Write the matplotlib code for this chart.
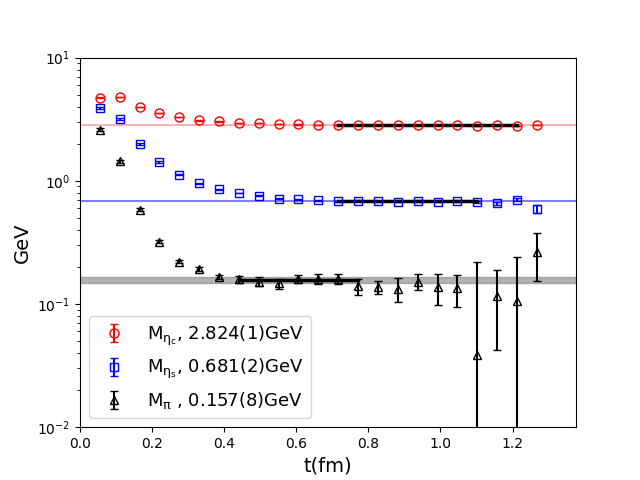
import numpy as np
import matplotlib
matplotlib.use('Agg')
import matplotlib.pyplot as plt

# time slices in fm, a = 0.0551 fm
a = 0.0551
n_t = np.arange(1, 24)
t = n_t * a

# eta_c effective mass (GeV)
m_etac = [4.72, 4.80, 3.97, 3.55, 3.28, 3.10, 3.03, 2.95, 2.93, 2.89, 2.87, 2.85,
          2.84, 2.83, 2.83, 2.83, 2.83, 2.83, 2.83, 2.80, 2.82, 2.79, 2.83]
e_etac = [0.03, 0.03, 0.02, 0.02, 0.015, 0.015, 0.01, 0.01, 0.01, 0.01, 0.01, 0.01,
          0.01, 0.01, 0.01, 0.01, 0.01, 0.01, 0.01, 0.01, 0.01, 0.01, 0.01]

# eta_s effective mass (GeV)
m_etas = [3.90, 3.17, 1.99, 1.42, 1.12, 0.958, 0.855, 0.794, 0.755, 0.718, 0.710, 0.692,
          0.684, 0.686, 0.680, 0.678, 0.684, 0.678, 0.684, 0.670, 0.655, 0.700, 0.589]
e_etas = [0.05, 0.04, 0.02, 0.015, 0.01, 0.008, 0.006, 0.005, 0.005, 0.005, 0.005, 0.005,
          0.005, 0.006, 0.008, 0.008, 0.008, 0.01, 0.01, 0.012, 0.015, 0.02, 0.045]

# pion effective mass (GeV)
m_pi = [2.60, 1.435, 0.581, 0.321, 0.2195, 0.192, 0.167, 0.159, 0.152, 0.147, 0.159, 0.159,
        0.159, 0.139, 0.137, 0.133, 0.152, 0.137, 0.134, 0.0385, 0.116, 0.106, 0.266]
e_pi = [0.06, 0.03, 0.015, 0.008, 0.006, 0.006, 0.006, 0.011, 0.013, 0.014, 0.012, 0.015,
        0.015, 0.021, 0.016, 0.029, 0.022, 0.039, 0.039, 0.18, 0.074, 0.134, 0.113]

# fit results
fit_etac, fit_etac_err = 2.824, 0.001
fit_etas, fit_etas_err = 0.681, 0.002
fit_pi, fit_pi_err = 0.157, 0.008
range_etac = (13, 22)
range_etas = (13, 20)
range_pi = (8, 14)

fig, ax = plt.subplots(figsize=(6.4, 4.8), dpi=100)

ax.axhline(fit_etac, color='red', alpha=0.3, lw=1.5)
ax.axhline(fit_etas, color='blue', alpha=0.5, lw=1.5)
ax.axhspan(fit_pi - fit_pi_err, fit_pi + fit_pi_err, facecolor='gray', alpha=0.6,
           edgecolor='gray', lw=1)

ax.errorbar(t, m_etac, yerr=e_etac, fmt='o', mfc='none', mec='red', ecolor='red',
            ms=6.5, capsize=3, label=r'$\mathrm{M_{\eta_c}}$, 2.824(1)GeV')
ax.errorbar(t, m_etas, yerr=e_etas, fmt='s', mfc='none', mec='blue', ecolor='blue',
            ms=6, capsize=3, label=r'$\mathrm{M_{\eta_s}}$, 0.681(2)GeV')
ax.errorbar(t, m_pi, yerr=e_pi, fmt='^', mfc='none', mec='black', ecolor='black',
            ms=6, capsize=3, label=r'$\mathrm{M_{\pi}}$ , 0.157(8)GeV')

for (i0, i1), val in [(range_etac, fit_etac), (range_etas, fit_etas), (range_pi, fit_pi)]:
    ax.plot([t[i0 - 1], t[i1 - 1]], [val, val], color='black', lw=2.5)

ax.set_yscale('log')
ax.set_ylim(1e-2, 1e1)
ax.set_xlim(0, 1.376)
ax.set_xlabel('t(fm)', fontsize=14)
ax.set_ylabel('GeV', fontsize=14)
ax.legend(loc='lower left', fontsize=13)

plt.savefig('out.png')
